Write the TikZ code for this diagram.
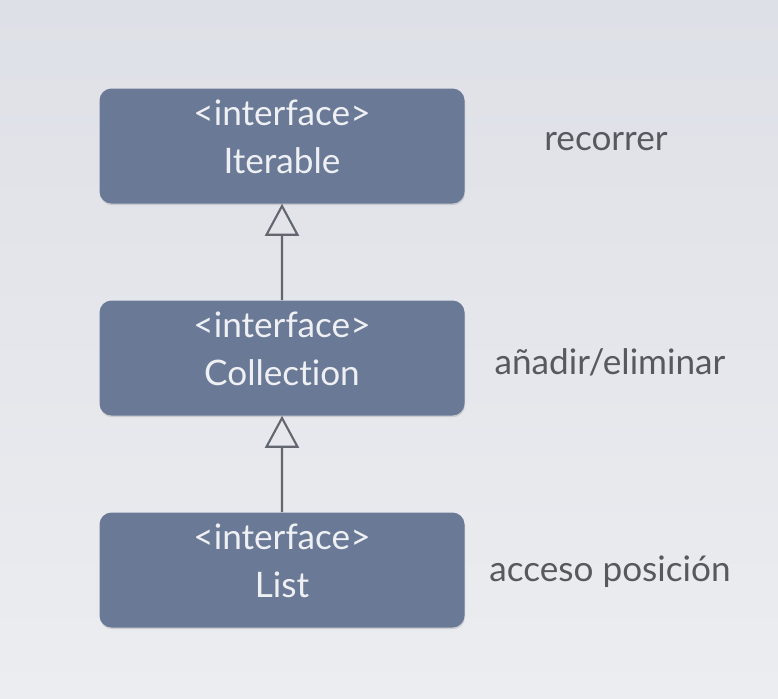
\documentclass[tikz,border=0pt]{standalone}
\usepackage{fontspec}
\setmainfont{Lato}[Ligatures=CommonOff]
\usetikzlibrary{arrows.meta,shadows,positioning}

\definecolor{boxblue}{HTML}{6A7996}
\definecolor{boxtext}{HTML}{EEF0F4}
\definecolor{notegray}{HTML}{58595E}
\definecolor{linegray}{HTML}{62666F}
\definecolor{bgtop}{HTML}{DEE0E7}
\definecolor{bgbottom}{HTML}{ECEDF0}

\begin{document}
\begin{tikzpicture}[level distance=5.3cm,
  iface/.style={rectangle, rounded corners=0.3cm, fill=boxblue, text=boxtext,
    minimum width=9.125cm, minimum height=2.875cm, align=center,
    text depth=0.45cm, font=\fontsize{25}{34}\selectfont,
    drop shadow={shadow xshift=0.4pt, shadow yshift=-1.2pt, opacity=0.25}},
  note/.style={text=notegray, font=\fontsize{25}{30}\selectfont},
  edge from parent/.style={draw=linegray, line width=1.5pt,
    {Triangle[open,width=0.85cm,length=0.8cm]}-}]
  \shade[top color=bgtop, bottom color=bgbottom] (0,0) rectangle (19.45,-17.45);
  \useasboundingbox (0,0) rectangle (19.45,-17.45);
  \node[iface] (iterable) at (7.05,-3.65) {\textless interface\textgreater\\Iterable}
    child {node[iface] (collection) {\textless interface\textgreater\\Collection}
      child {node[iface] (list) {\textless interface\textgreater\\List}}
    };
  \node[note] (recorrer) at (15.15,-3.55) {recorrer};
  \node[note] (anadir) at (15.25,-9.05) {añadir/eliminar};
  \node[note] (acceso) at (15.25,-14.3) {acceso posición};
\end{tikzpicture}
\end{document}
